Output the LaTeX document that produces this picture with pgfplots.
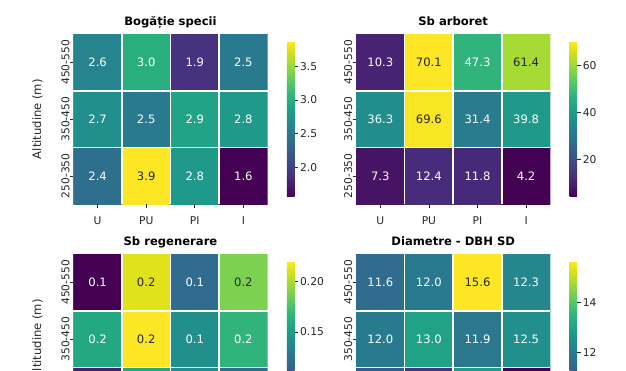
\documentclass[border=0pt]{standalone}
\usepackage{fontspec}
\setmainfont{DejaVu Sans}
\usepackage{pgfplots}
\pgfplotsset{compat=1.18}
\definecolor{txt}{HTML}{262626}
\pgfplotsset{
  /pgf/number format/assume math mode=true,
  hm/.style={
    scale only axis, width=194.4pt, height=170.3pt,
    xmin=-0.5, xmax=3.5, ymin=-0.5, ymax=2.5,
    colormap/viridis,
    axis on top,
    axis line style={draw=none},
    xtick={0,1,2,3}, xticklabels={U,PU,PI,I},
    ytick={0,1,2}, yticklabels={250-350,350-450,450-550},
    minor xtick={0.5,1.5,2.5}, minor ytick={0.5,1.5},
    minor tick length=0pt,
    xminorgrids, yminorgrids,
    minor grid style={white, line width=1.5pt},
    tick align=outside, major tick length=3.5pt,
    xtick pos=left, ytick pos=left,
    tick style={txt, line width=0.8pt},
    tick label style={font=\fontsize{10.7}{12}\selectfont, text=txt},
    yticklabel style={rotate=90, anchor=south},
    xticklabel style={anchor=north},
    yticklabel shift=-3.2pt,
    xticklabel shift=5.5pt,
    title style={font=\fontsize{11.6}{14}\selectfont\bfseries, text=black, at={(0.5,1)}, anchor=base, yshift=3pt},
    colorbar,
    colorbar style={
      scale only axis, width=7.7pt, height=154.4pt,
      at={(parent axis.east)}, anchor=west, xshift=10.6pt,
      axis line style={draw=none},
      tick align=outside, major tick length=3.5pt,
      ytick pos=right, yticklabel pos=right,
      tick style={txt, line width=0.8pt},
      yticklabel style={font=\fontsize{10.7}{12}\selectfont, text=txt, anchor=west},
      yticklabel shift=-1.5pt,
      scaled y ticks=false,
    },
  },
  lblw/.style={draw=none, nodes near coords, point meta=explicit symbolic,
    every node near coord/.append style={anchor=center, text=white, font=\fontsize{11.6}{14}\selectfont}},
  lbld/.style={draw=none, nodes near coords, point meta=explicit symbolic,
    every node near coord/.append style={anchor=center, text=txt, font=\fontsize{11.6}{14}\selectfont}},
}
\begin{document}
\begin{tikzpicture}
\path[use as bounding box, clip] (0pt,0pt) rectangle (626pt,370pt);

% ---------- Top left: Bogatie specii ----------
\begin{axis}[hm, at={(73.3pt,165.7pt)}, anchor=south west,
  title={Bogăție specii},
  ylabel={Altitudine (m)},
  ylabel style={at={(axis description cs:-0.184,0.5)}, anchor=center, font=\fontsize{11.6}{14}\selectfont, text=txt},
  point meta min=1.57, point meta max=3.86,
  colorbar style={ytick={2.0,2.5,3.0,3.5},
    yticklabel style={/pgf/number format/fixed, /pgf/number format/fixed zerofill, /pgf/number format/precision=1}},
]
\addplot[matrix plot*, mesh/cols=4, point meta=explicit] table[meta=c] {
x y c
0 0 2.4
1 0 3.86
2 0 2.8
3 0 1.57
0 1 2.7
1 1 2.5
2 1 2.9
3 1 2.8
0 2 2.6
1 2 3.0
2 2 1.9
3 2 2.5
};
\addplot[lblw] table[meta=l] {
x y l
0 0 2.4
2 0 2.8
3 0 1.6
0 1 2.7
1 1 2.5
2 1 2.9
3 1 2.8
0 2 2.6
1 2 3.0
2 2 1.9
3 2 2.5
};
\addplot[lbld] table[meta=l] {
x y l
1 0 3.9
};
\end{axis}

% ---------- Top right: Sb arboret ----------
\begin{axis}[hm, at={(356pt,165.7pt)}, anchor=south west,
  title={Sb arboret},
  point meta min=4.2, point meta max=70.1,
  colorbar style={ytick={20,40,60}},
]
\addplot[matrix plot*, mesh/cols=4, point meta=explicit] table[meta=c] {
x y c
0 0 7.3
1 0 12.4
2 0 11.8
3 0 4.2
0 1 36.3
1 1 69.6
2 1 31.4
3 1 39.8
0 2 10.3
1 2 70.1
2 2 47.3
3 2 61.4
};
\addplot[lblw] table[meta=l] {
x y l
0 0 7.3
1 0 12.4
2 0 11.8
3 0 4.2
0 1 36.3
2 1 31.4
3 1 39.8
0 2 10.3
2 2 47.3
};
\addplot[lbld] table[meta=l] {
x y l
1 1 69.6
1 2 70.1
3 2 61.4
};
\end{axis}

% ---------- Bottom left: Sb regenerare ----------
\begin{axis}[hm, at={(73.3pt,-54.3pt)}, anchor=south west,
  title={Sb regenerare},
  ylabel={Altitudine (m)},
  ylabel style={at={(axis description cs:-0.184,0.5)}, anchor=center, font=\fontsize{11.6}{14}\selectfont, text=txt},
  point meta min=0.067, point meta max=0.219,
  colorbar style={ytick={0.15,0.20},
    yticklabel style={/pgf/number format/fixed, /pgf/number format/fixed zerofill, /pgf/number format/precision=2}},
  xticklabels={},
  ytick={1,2}, yticklabels={350-450,450-550},
]
\addplot[matrix plot*, mesh/cols=4, point meta=explicit] table[meta=c] {
x y c
0 0 0.079
1 0 0.158
2 0 0.140
3 0 0.120
0 1 0.158
1 1 0.219
2 1 0.143
3 1 0.166
0 2 0.067
1 2 0.212
2 2 0.120
3 2 0.189
};
\addplot[lblw] table[meta=l] {
x y l
0 1 0.2
2 1 0.1
3 1 0.2
0 2 0.1
2 2 0.1
};
\addplot[lbld] table[meta=l] {
x y l
1 1 0.2
1 2 0.2
3 2 0.2
};
\end{axis}

% ---------- Bottom right: Diametre - DBH SD ----------
\begin{axis}[hm, at={(356pt,-54.3pt)}, anchor=south west,
  title={Diametre - DBH SD},
  point meta min=9.46, point meta max=15.6,
  colorbar style={ytick={12,14}},
  xticklabels={},
  ytick={1,2}, yticklabels={350-450,450-550},
]
\addplot[matrix plot*, mesh/cols=4, point meta=explicit] table[meta=c] {
x y c
0 0 11.2
1 0 10.4
2 0 12.8
3 0 9.46
0 1 12.0
1 1 13.0
2 1 11.9
3 1 12.5
0 2 11.6
1 2 12.0
2 2 15.6
3 2 12.3
};
\addplot[lblw] table[meta=l] {
x y l
0 1 12.0
1 1 13.0
2 1 11.9
3 1 12.5
0 2 11.6
1 2 12.0
3 2 12.3
};
\addplot[lbld] table[meta=l] {
x y l
2 2 15.6
};
\end{axis}
\end{tikzpicture}
\end{document}
